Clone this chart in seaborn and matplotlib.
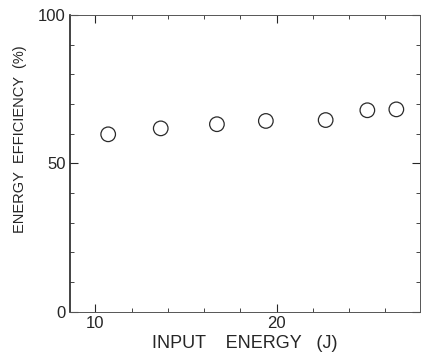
import numpy as np
import pandas as pd
import matplotlib
matplotlib.use("Agg")
import matplotlib.pyplot as plt
import seaborn as sb

input_energy = [10.7, 13.6, 16.7, 19.4, 22.7, 25.0, 26.6]
efficiency = [59.8, 61.8, 63.2, 64.3, 64.6, 67.9, 68.2]

data = pd.DataFrame({"input": input_energy, "eff": efficiency})

sb.set_style("ticks")
plt.rcParams['font.family'] = ['Liberation Sans', 'DejaVu Sans']

fig = plt.figure(figsize=(4.25, 3.56), dpi=100)
ax = fig.add_axes([0.165, 0.124, 0.823, 0.834])

sb.scatterplot(data=data, x="input", y="eff", ax=ax, marker="o", s=110,
               facecolor="none", edgecolor="#2a2a2a", linewidth=0.9)

ax.set_xlim(8.6, 27.9)
ax.set_ylim(0, 100)
ax.set_xticks([10, 20])
ax.set_xticks(np.arange(10, 28, 2), minor=True)
ax.set_yticks([0, 50, 100])
ax.set_yticks(np.arange(0, 101, 10), minor=True)
ax.tick_params(direction="in", top=True, right=True, which="both", labelsize=12)
ax.tick_params(which="major", length=6, width=0.8, pad=3)
ax.tick_params(which="minor", length=3, width=0.6)
for s in ax.spines.values():
    s.set_linewidth(0.7)
    s.set_color("#555555")
ax.spines["left"].set_linewidth(1.2)
ax.spines["left"].set_color("#222222")

## etiquettes des axes
ax.set_xlabel("INPUT    ENERGY   (J)", fontsize=13, labelpad=3)
ax.set_ylabel("ENERGY  EFFICIENCY  (%)", fontsize=10.5, labelpad=8)
ax.yaxis.label.set_y(0.58)

fig.savefig("out.png", dpi=100)
